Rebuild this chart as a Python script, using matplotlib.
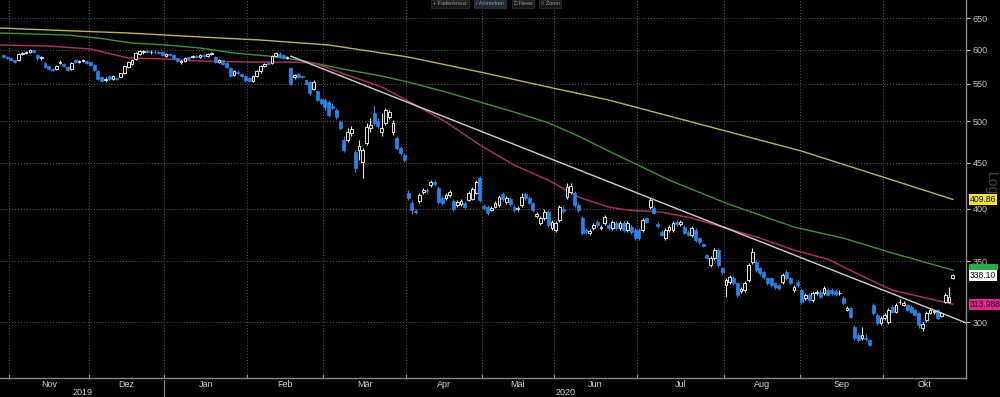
"""Candlestick chart Nov 2019 - Okt 2020 with moving averages and trend line."""

import pandas as pd
import matplotlib.pyplot as plt
from matplotlib.patches import Rectangle
from matplotlib.ticker import FixedLocator, FixedFormatter, NullLocator, NullFormatter

plt.rcParams['font.family'] = ['Liberation Sans', 'DejaVu Sans']

# trading days (UK calendar)
holidays = ['2019-12-25', '2019-12-26', '2020-01-01', '2020-04-10', '2020-04-13',
            '2020-05-08', '2020-05-25', '2020-08-31']
days = pd.bdate_range('2019-10-30', '2020-10-27')
days = days[~days.isin(pd.to_datetime(holidays))]

# OHLC, one line per month (Okt 19 -> Okt 20)
opens = [592, 589,
         587, 584, 584, 593, 595, 596, 599, 592, 587, 580, 575, 571, 571, 580, 578, 574, 571, 584, 581, 583, 583,
         581, 577, 568, 560, 555, 561, 557, 558, 560, 565, 574, 578, 586, 593, 596, 598, 596, 597, 596, 596,
         590, 593, 592, 587, 581, 583, 589, 589, 590, 589, 592, 590, 593, 589, 581, 584, 580, 573, 562, 567, 564, 561,
         558, 554, 561, 568, 575, 580, 580, 590, 593, 592, 587, 572, 559, 564, 561, 555, 553, 543, 540, 529,
         528, 525, 520, 514, 499, 477, 477, 485, 462, 465, 451, 473, 491, 510, 500, 486, 498, 506, 486, 479, 467, 459,
         416.6, 406.1, 397.9, 408.2, 417.7, 419.8, 425.2, 428.4, 422.0, 411.3, 411.3, 414.5, 408.2, 404.0, 405.1,
         406.1, 409.2, 410.3, 416.6, 432.8,
         403.0, 402.0, 398.9, 402.0, 404.0, 415.6, 407.2, 410.3, 402.0, 399.9, 404.0, 415.6, 411.3, 406.1, 392.9,
         386.0, 390.9, 396.9, 381.1,
         379.1, 388.9, 399.9, 412.4, 417.7, 416.6, 404.0, 390.9, 379.1, 376.2, 381.1, 386.9, 381.1, 386.0, 384.0,
         381.1, 386.0, 381.1, 386.0, 379.1, 382.0, 379.1,
         379.1, 379.1, 390.9, 402.0, 400.9, 385.0, 377.2, 371.5, 379.1, 379.1, 386.9, 385.0, 382.0, 377.2, 374.3,
         379.1, 371.5, 365.8, 355.8, 346.8, 353.1, 360.3, 344.2,
         329.6, 332.1, 335.5, 331.3, 324.6, 325.4, 333.8, 349.5, 349.5, 344.2, 340.7, 335.5, 335.5, 331.3, 329.6,
         332.1, 340.7, 335.5, 325.4, 332.1,
         325.4, 318.9, 321.3, 317.3, 323.0, 323.8, 323.0, 325.4, 325.4, 324.6, 323.0, 318.9, 309.3, 310.9, 296.2,
         290.2, 288.0, 288.0, 286.6, 313.3, 305.4, 299.2,
         303.1, 300.0, 311.7, 307.8, 315.7, 313.3, 313.3, 311.7, 309.3, 307.0, 295.5, 301.5, 307.0, 307.8, 309.3,
         304.6, 315.7, 315.7, 335.5]
highs = [594, 590,
         589, 585, 595, 597, 598, 601, 600, 593, 591, 581, 576, 573, 577, 585, 580, 575, 581, 586, 585, 586, 585,
         582, 578, 569, 561, 559, 562, 563, 560, 566, 577, 583, 586, 597, 600, 600, 601, 599, 600, 598, 598,
         595, 595, 593, 588, 585, 589, 590, 592, 592, 594, 593, 595, 597, 590, 586, 585, 581, 574, 570, 569, 566, 562,
         560, 562, 569, 577, 580, 582, 592, 597, 596, 593, 591, 574, 564, 566, 563, 556, 554, 555, 542, 531,
         530, 528, 524, 517, 502, 482, 492, 494, 465, 477, 467, 498, 504, 521, 504, 511, 517, 514, 502, 482, 470, 461,
         419.8, 408.2, 399.9, 416.6, 422.0, 422.0, 430.6, 430.6, 424.1, 413.4, 416.6, 419.8, 410.3, 409.2, 410.3,
         408.2, 418.7, 423.0, 430.6, 435.0,
         405.1, 404.0, 403.0, 408.2, 414.5, 417.7, 413.4, 412.4, 404.0, 403.0, 416.6, 417.7, 413.4, 407.2, 396.9,
         392.9, 399.9, 398.9, 388.9,
         387.9, 404.0, 403.0, 427.3, 427.3, 418.7, 406.1, 392.9, 381.1, 380.1, 386.0, 388.9, 384.0, 393.9, 386.0,
         388.9, 387.9, 387.9, 387.9, 387.9, 384.0, 381.1,
         381.1, 390.9, 391.9, 411.3, 403.0, 386.9, 379.1, 381.1, 384.0, 387.9, 388.9, 388.9, 384.0, 379.1, 383.0,
         381.1, 372.4, 366.7, 356.7, 354.9, 362.1, 362.1, 345.1,
         335.5, 338.1, 337.3, 332.1, 327.9, 333.0, 348.6, 362.1, 351.3, 345.1, 341.6, 336.4, 336.4, 332.1, 330.4,
         339.8, 342.4, 336.4, 329.6, 333.8,
         327.1, 323.0, 323.0, 324.6, 325.4, 325.4, 328.7, 327.1, 327.1, 326.2, 325.4, 320.5, 312.5, 311.7, 297.7,
         291.7, 296.2, 291.0, 287.3, 314.9, 307.0, 304.6,
         307.0, 310.9, 313.3, 314.9, 318.1, 316.5, 314.1, 313.3, 310.1, 307.8, 300.0, 308.5, 310.9, 309.3, 310.1,
         307.8, 323.0, 327.9, 339.0]
lows = [587, 586,
        583, 580, 583, 592, 593, 595, 595, 585, 585, 573, 570, 568, 570, 578, 574, 568, 570, 580, 580, 581, 578,
        576, 568, 555, 552, 553, 555, 556, 555, 559, 564, 573, 577, 585, 592, 594, 595, 594, 594, 593, 590,
        589, 590, 586, 581, 578, 582, 584, 587, 587, 587, 588, 589, 592, 580, 580, 577, 572, 559, 561, 563, 559, 553,
        552, 552, 560, 566, 574, 577, 578, 589, 589, 586, 586, 548, 557, 558, 558, 548, 535, 541, 526, 522,
        514, 506, 514, 503, 489, 462, 474, 481, 440, 453, 433, 471, 487, 495, 492, 481, 495, 503, 483, 465, 459, 451,
        409.2, 394.9, 394.9, 406.1, 415.6, 416.6, 423.0, 424.1, 405.1, 404.0, 409.2, 412.4, 397.9, 402.0, 403.0,
        399.9, 408.2, 409.2, 415.6, 407.2,
        398.9, 393.9, 397.9, 400.9, 402.0, 408.2, 405.1, 403.0, 396.9, 397.9, 402.0, 409.2, 405.1, 396.9, 390.9,
        384.0, 388.9, 382.0, 379.1,
        377.2, 386.9, 395.9, 410.3, 415.6, 402.0, 396.9, 374.3, 375.3, 374.3, 379.1, 382.0, 379.1, 384.0, 379.1,
        379.1, 379.1, 379.1, 377.2, 377.2, 375.3, 369.6,
        369.6, 377.2, 386.0, 399.9, 394.9, 381.1, 373.4, 369.6, 377.2, 377.2, 383.0, 383.0, 375.3, 373.4, 372.4,
        367.8, 365.8, 363.1, 352.2, 345.1, 351.3, 345.1, 339.0,
        319.7, 330.4, 329.6, 319.7, 323.0, 323.8, 332.1, 347.7, 340.7, 338.1, 334.6, 329.6, 327.9, 326.2, 325.4,
        330.4, 333.8, 329.6, 323.8, 327.9,
        314.1, 317.3, 315.7, 315.7, 321.3, 318.9, 321.3, 320.5, 321.3, 320.5, 321.3, 313.3, 308.5, 303.1, 286.6,
        285.9, 286.6, 285.9, 282.2, 305.4, 297.7, 297.7,
        301.5, 298.5, 307.0, 307.0, 314.1, 312.5, 308.5, 307.0, 304.6, 295.5, 293.2, 300.0, 306.2, 306.2, 302.3,
        303.9, 314.9, 314.9, 334.6]
closes = [589, 587,
          584, 581, 593, 595, 596, 599, 596, 587, 589, 574, 571, 570, 575, 581, 575, 570, 580, 581, 583, 584, 580,
          577, 570, 557, 554, 557, 557, 561, 557, 565, 575, 581, 584, 595, 598, 598, 596, 597, 596, 595, 592,
          593, 592, 587, 583, 583, 587, 586, 590, 589, 592, 590, 593, 595, 581, 584, 578, 574, 561, 568, 565, 561, 555,
          554, 561, 568, 575, 578, 578, 590, 595, 590, 587, 589, 550, 562, 559, 560, 550, 537, 553, 528, 524,
          519, 508, 517, 505, 491, 465, 487, 490, 444, 470, 465, 493, 495, 498, 494, 491, 514, 512, 498, 467, 461, 453,
          411.3, 398.9, 396.9, 414.5, 419.8, 418.7, 428.4, 426.3, 407.2, 406.1, 414.5, 417.7, 399.9, 407.2, 408.2,
          402.0, 416.6, 420.9, 428.4, 409.2,
          400.9, 395.9, 400.9, 406.1, 412.4, 410.3, 411.3, 405.1, 398.9, 400.9, 412.4, 411.3, 406.1, 398.9, 394.9,
          390.9, 396.9, 384.0, 386.9,
          386.0, 402.0, 397.9, 423.0, 424.1, 404.0, 398.9, 376.2, 377.2, 378.2, 384.0, 384.0, 382.0, 391.9, 381.1,
          386.9, 381.1, 386.0, 379.1, 386.0, 377.2, 371.5,
          371.5, 388.9, 386.9, 409.2, 395.9, 383.0, 374.3, 379.1, 382.0, 386.0, 385.0, 386.9, 376.2, 374.3, 381.1,
          369.6, 367.8, 364.0, 353.1, 353.1, 360.3, 346.8, 340.7,
          333.8, 336.4, 331.3, 321.3, 326.2, 331.3, 346.8, 358.5, 342.4, 339.8, 336.4, 331.3, 329.6, 327.9, 327.1,
          338.1, 335.5, 331.3, 327.9, 329.6,
          315.7, 321.3, 317.3, 323.0, 323.8, 319.7, 327.1, 321.3, 323.0, 322.1, 323.4, 314.9, 310.9, 303.9, 288.0,
          286.6, 290.2, 287.3, 282.9, 307.0, 299.2, 303.1,
          305.4, 309.3, 307.8, 313.3, 316.1, 314.9, 309.3, 307.8, 305.4, 297.7, 298.5, 307.0, 309.3, 308.2, 303.1,
          307.0, 321.3, 319.7, 338.1]

# moving averages, read at a few trading-day positions
ma_short_x = [-1, 12, 23, 33, 43, 52, 65, 76, 82, 91, 100, 108, 117, 126, 135, 144, 152, 160, 165, 174,
              182, 191, 200, 209, 218, 227, 235, 244, 251]
ma_short_y = [607, 605.5, 600.9, 587.3, 585.8, 582.8, 581.3, 581.3, 579.9, 562.4, 545.6, 523.8, 499.1, 470.7,
              447.3, 430.6, 412.4, 402.0, 398.9, 396.9, 390.9, 381.1, 371.5, 360.3, 352.0, 337.3, 325.4, 318.9,
              313.988]
ma_mid_x = [-1, 17, 25, 34, 43, 52, 61, 70, 78, 82, 91, 100, 108, 117, 126, 135, 144, 152, 160, 176, 191,
            209, 222, 235, 251]
ma_mid_y = [625.9, 622.6, 617.9, 610.1, 607.1, 602.5, 594.8, 590.3, 584.3, 579.9, 569.7, 561.1, 551.1, 538.6,
            525.1, 511.9, 498.2, 481.6, 463.6, 430.6, 406.1, 382.0, 371.5, 357.6, 342.4]
ma_long_x = [-1, 12, 33, 52, 68, 86, 107, 126, 144, 160, 184, 211, 235, 251]
ma_long_y = [633.9, 630.7, 625.9, 619.6, 614.8, 607.1, 588.8, 566.8, 545.6, 527.8, 496.5, 463.5, 430.6, 409.86]

trend_x = [76, 254.6]
trend_y = [590, 299.3]

last_price = 338.10
tag_values = [409.86, 313.988]
tag_text = ['409.86', '313.988']
mid_tag_value = 344.5   # mostly hidden behind the last-price tag

month_names = ['Jan', 'Feb', 'Mär', 'Apr', 'Mai', 'Jun', 'Jul', 'Aug', 'Sep', 'Okt', 'Nov', 'Dez']
y_ticks = [300, 350, 400, 450, 500, 550, 600, 650]

#########
# Plot  #
#########
blue = '#2a84e8'
white = '#e2e2e2'
grid_col = '#5c5c5c'

fig = plt.figure(figsize=(10, 3.97), dpi=100, facecolor='black')
ax = fig.add_axes([0, 19 / 397, 0.966, 378 / 397])
ax.set_facecolor('black')
ax.set_yscale('log')

n = len(closes)
xs = list(range(n))
up = [c >= o for o, c in zip(opens, closes)]
dn = [not u for u in up]


def pick(vals, mask):
    return [v for v, m in zip(vals, mask) if m]


x_up = pick(xs, up)
x_dn = pick(xs, dn)
ax.vlines(x_up, pick(lows, up), pick(highs, up), color=white, lw=0.8, zorder=3)
ax.vlines(x_dn, pick(lows, dn), pick(highs, dn), color=blue, lw=0.8, zorder=3)
ax.bar(x_up, [c - o for o, c in zip(pick(opens, up), pick(closes, up))], bottom=pick(opens, up),
       width=0.7, facecolor='black', edgecolor=white, lw=0.7, zorder=4)
ax.bar(x_dn, [o - c for o, c in zip(pick(opens, dn), pick(closes, dn))], bottom=pick(closes, dn),
       width=0.78, facecolor=blue, edgecolor=blue, lw=0.5, zorder=4)

ax.plot(ma_long_x, ma_long_y, color='#b9b458', lw=1.0, zorder=2)
ax.plot(ma_mid_x, ma_mid_y, color='#3f8f3c', lw=1.0, zorder=2)
ax.plot(ma_short_x, ma_short_y, color='#a3305f', lw=1.1, zorder=2)
ax.plot(trend_x, trend_y, color='#cfcfcf', lw=1.0, zorder=5)

# axes
x_left, x_right = -0.9, 254.5
ax.set_xlim(x_left, x_right)
ax.set_ylim(260.2, 680.7)

ax.yaxis.tick_right()
ax.yaxis.set_major_locator(FixedLocator(y_ticks))
ax.yaxis.set_major_formatter(FixedFormatter([str(v) for v in y_ticks]))
ax.yaxis.set_minor_locator(NullLocator())
ax.yaxis.set_minor_formatter(NullFormatter())
ax.tick_params(axis='y', colors='#c4c4c4', labelsize=6.5, length=3, width=0.8, pad=2)
ax.grid(axis='y', color=grid_col, linestyle=(0, (1, 2)), lw=0.7)

for s in ['top', 'left']:
    ax.spines[s].set_visible(False)
for s in ['right', 'bottom']:
    ax.spines[s].set_color('#8a8a8a')
    ax.spines[s].set_linewidth(1.0)

# month boundaries and labels
bounds = [i - 0.5 for i in range(1, n) if days[i].month != days[i - 1].month]
b_month = [days[i].month for i in range(1, n) if days[i].month != days[i - 1].month]
ax.set_xticks(bounds)
ax.set_xticklabels([])
ax.tick_params(axis='x', length=3, direction='in', colors='#8a8a8a')
for b in bounds:
    ax.axvline(b, color=grid_col, linestyle=(0, (1, 2)), lw=0.7, zorder=1)

xtrans = ax.get_xaxis_transform()
ends = bounds[1:] + [x_right]
for b, e, m in zip(bounds, ends, b_month):
    ax.text((b + e) / 2, -0.017, month_names[m - 1], transform=xtrans, ha='center', va='center',
            fontsize=6.5, color='#d0d0d0', clip_on=False)

jan = bounds[b_month.index(1)]
ax.text((x_left + jan) / 2, -0.039, '2019', transform=xtrans, ha='center', va='center',
        fontsize=6.5, color='#d0d0d0', clip_on=False)
ax.text((jan + x_right) / 2, -0.039, '2020', transform=xtrans, ha='center', va='center',
        fontsize=6.5, color='#d0d0d0', clip_on=False)
ax.plot([jan, jan], [-0.005, -0.06], transform=xtrans, color='#8a8a8a', lw=0.8, clip_on=False)

# value tags on the right
ytrans = ax.get_yaxis_transform()
ax.add_patch(Rectangle((1.003, mid_tag_value * 0.993), 0.03, mid_tag_value * 0.016, transform=ytrans,
                       fc='#2fa84a', ec='none', clip_on=False, zorder=6))
for v, t, col in zip(tag_values, tag_text, ['#efe23e', '#e32496']):
    ax.text(1.004, v, t, transform=ytrans, ha='left', va='center', fontsize=6.2, color='#111111',
            bbox=dict(boxstyle='square,pad=0.12', fc=col, ec='none'), clip_on=False, zorder=6)
ax.text(1.004, last_price, f'{last_price:.2f}', transform=ytrans, ha='left', va='center', fontsize=6.2,
        color='#111111', bbox=dict(boxstyle='square,pad=0.12', fc='white', ec='none'), clip_on=False, zorder=7)

fig.text(0.991, 0.537, 'Log', rotation=270, ha='center', va='center', fontsize=10, color='#444444')

# toolbar at the top
tools = ['+ Fadenkreuz', '/ Anmerken', '□ News', '○ Zoom']
tool_x = [0.450, 0.490, 0.523, 0.550]
for t, tx in zip(tools, tool_x):
    fc = '#1d2a3c' if 'Anmerken' in t else '#1a1a1a'
    fig.text(tx, 0.997, t, ha='center', va='top', fontsize=4, color='#9a9a9a',
             bbox=dict(boxstyle='square,pad=0.3', fc=fc, ec='#333333', lw=0.5))

fig.savefig('out.png', dpi=100, facecolor='black')
